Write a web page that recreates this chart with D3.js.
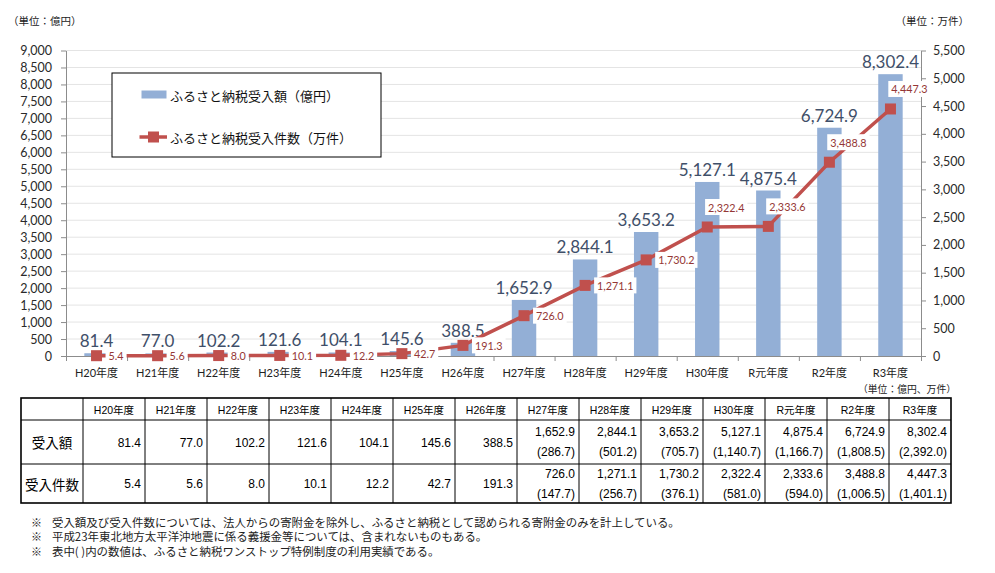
<!DOCTYPE html>
<html><head><meta charset="utf-8">
<script src="https://cdn.jsdelivr.net/npm/d3@7"></script>
<style>body{margin:0;background:#fff;} svg{display:block;}</style>
</head><body><svg id="c" width="995" height="573"></svg>
<script>
const categories = ["H20年度","H21年度","H22年度","H23年度","H24年度","H25年度","H26年度","H27年度","H28年度","H29年度","H30年度","R元年度","R2年度","R3年度"];
const amounts = [81.4,77.0,102.2,121.6,104.1,145.6,388.5,1652.9,2844.1,3653.2,5127.1,4875.4,6724.9,8302.4];
const counts = [5.4,5.6,8.0,10.1,12.2,42.7,191.3,726.0,1271.1,1730.2,2322.4,2333.6,3488.8,4447.3];
const oneStopAmounts = [null,null,null,null,null,null,null,286.7,501.2,705.7,1140.7,1166.7,1808.5,2392.0];
const oneStopCounts = [null,null,null,null,null,null,null,147.7,256.7,376.1,581.0,594.0,1006.5,1401.1];
const leftTicks = [0,500,1000,1500,2000,2500,3000,3500,4000,4500,5000,5500,6000,6500,7000,7500,8000,8500,9000];
const rightTicks = [0,500,1000,1500,2000,2500,3000,3500,4000,4500,5000,5500];
const seriesNames = ["ふるさと納税受入額（億円）","ふるさと納税受入件数（万件）"];
const rowLabels = ["受入額","受入件数"];
const leftUnit = "（単位：億円）";
const rightUnit = "（単位：万件）";
const tableUnit = "（単位：億円、万件）";
const notes = ["受入額及び受入件数については、法人からの寄附金を除外し、ふるさと納税として認められる寄附金のみを計上している。",
  "平成23年東北地方太平洋沖地震に係る義援金等については、含まれないものもある。",
  "表中( )内の数値は、ふるさと納税ワンストップ特例制度の利用実績である。"];

const svg = d3.select("#c");
const L = 66, R = 921, T = 50.5, B = 356;
const latin = "Lato, 'Noto Sans CJK JP', sans-serif";
const jp = "'Noto Sans CJK JP', sans-serif";
const fmt = d3.format(",.1f");

const x = d3.scaleBand().domain(categories).range([L, R]).paddingInner(0.6).paddingOuter(0.3);
const xb = d3.scaleLinear().domain([0, categories.length]).range([L, R]);
const yL = d3.scaleLinear().domain([0, 9000]).range([B, T]);
const yR = d3.scaleLinear().domain([0, 5500]).range([B, T]);
const cx = c => x(c) + x.bandwidth() / 2;

// gridlines
svg.append("g").selectAll("line").data(leftTicks.filter(d => d > 0)).join("line")
  .attr("x1", L).attr("x2", R).attr("y1", d => yL(d)).attr("y2", d => yL(d))
  .attr("stroke", "#E4E4E4").attr("stroke-width", 1);

// bars
svg.append("g").selectAll("rect").data(amounts).join("rect")
  .attr("x", (d, i) => x(categories[i])).attr("width", x.bandwidth())
  .attr("y", d => yL(d)).attr("height", d => B - yL(d))
  .attr("fill", "#93AFD6");

function styleAxis(g) {
  g.selectAll(".domain").attr("stroke", "#8C8C8C");
  g.selectAll(".tick line").attr("stroke", "#8C8C8C");
  g.selectAll(".tick text").attr("font-family", latin).attr("font-size", "12.5px").attr("fill", "#2A2A2A");
}
// left axis
svg.append("g").attr("transform", `translate(${L},0)`)
  .call(d3.axisLeft(yL).tickValues(leftTicks).tickFormat(d3.format(",")).tickSize(5).tickSizeOuter(0).tickPadding(9))
  .call(styleAxis);
// right axis
svg.append("g").attr("transform", `translate(${R},0)`)
  .call(d3.axisRight(yR).tickValues(rightTicks).tickFormat(d3.format(",")).tickSize(5).tickSizeOuter(0).tickPadding(7))
  .call(styleAxis);
// bottom axis
const gx = svg.append("g").attr("transform", `translate(0,${B})`)
  .call(d3.axisBottom(xb).tickValues(d3.range(0, categories.length + 1)).tickFormat("").tickSize(5).tickSizeOuter(0));
gx.selectAll(".domain").attr("stroke", "#8C8C8C");
gx.selectAll(".tick line").attr("stroke", "#8C8C8C");
svg.append("g").selectAll("text").data(categories).join("text")
  .attr("x", d => cx(d)).attr("y", 372).attr("text-anchor", "middle").attr("dominant-baseline", "central")
  .attr("font-family", latin).attr("font-size", "11px").attr("fill", "#222").text(d => d);

// bar labels
svg.append("g").selectAll("text").data(amounts).join("text")
  .attr("x", (d, i) => cx(categories[i])).attr("y", d => yL(d) - 6)
  .attr("text-anchor", "middle").attr("font-family", latin).attr("font-size", "17px")
  .attr("fill", "#3F4F69").text(d => fmt(d));

// line
const line = d3.line().x((d, i) => cx(categories[i])).y(d => yR(d));
svg.append("path").datum(counts).attr("d", line).attr("fill", "none")
  .attr("stroke", "#C0504D").attr("stroke-width", 3.5);
svg.append("g").selectAll("rect").data(counts).join("rect")
  .attr("x", (d, i) => cx(categories[i]) - 5.5).attr("y", d => yR(d) - 5.5)
  .attr("width", 11).attr("height", 11).attr("fill", "#C0504D");

// line labels
const lg = svg.append("g");
counts.forEach((d, i) => {
  const px = cx(categories[i]), py = yR(d);
  const g = lg.append("g");
  const above = i >= 10;
  const t = g.append("text").attr("font-family", latin).attr("font-size", "10.8px")
    .attr("fill", "#953735").attr("dominant-baseline", "central").text(fmt(d));
  if (above) t.attr("x", px + 19).attr("y", py - 20).attr("text-anchor", "middle");
  else t.attr("x", px + 12).attr("y", py).attr("text-anchor", "start");
  const bb = t.node().getBBox();
  g.insert("rect", "text").attr("x", bb.x - 3).attr("y", bb.y - 1.5)
    .attr("width", bb.width + 6).attr("height", bb.height + 3).attr("fill", "#fff");
});

// legend
const leg = svg.append("g");
leg.append("rect").attr("x", 112).attr("y", 73).attr("width", 269).attr("height", 84)
  .attr("fill", "#fff").attr("stroke", "#000").attr("stroke-width", 1);
leg.append("rect").attr("x", 141.5).attr("y", 90.5).attr("width", 25).attr("height", 8).attr("fill", "#93AFD6");
leg.append("line").attr("x1", 139.5).attr("x2", 167).attr("y1", 137).attr("y2", 137)
  .attr("stroke", "#C0504D").attr("stroke-width", 3.5);
leg.append("rect").attr("x", 148).attr("y", 131.5).attr("width", 11).attr("height", 11).attr("fill", "#C0504D");
leg.selectAll("text.l").data(seriesNames).join("text").attr("class", "l")
  .attr("x", 170).attr("y", (d, i) => i === 0 ? 95 : 137).attr("dominant-baseline", "central")
  .attr("font-family", jp).attr("font-size", "13px").attr("fill", "#111").text(d => d);

// units
svg.append("text").attr("x", 8).attr("y", 20).attr("dominant-baseline", "central")
  .attr("font-family", jp).attr("font-size", "10.5px").attr("fill", "#222").text(leftUnit);
svg.append("text").attr("x", 969).attr("y", 20).attr("text-anchor", "end").attr("dominant-baseline", "central")
  .attr("font-family", jp).attr("font-size", "10.5px").attr("fill", "#222").text(rightUnit);
svg.append("text").attr("x", 956).attr("y", 389).attr("text-anchor", "end").attr("dominant-baseline", "central")
  .attr("font-family", jp).attr("font-size", "9.8px").attr("fill", "#222").text(tableUnit);

// table
const tL = 21, c0 = 62, cw = 62, rows = [398, 420, 464, 503];
const tR = tL + c0 + cw * categories.length;
const colX = i => tL + c0 + cw * i;
const tb = svg.append("g");
const numFont = "'Liberation Sans', Arial, sans-serif";
tb.selectAll("line.v").data(d3.range(0, categories.length)).join("line").attr("class", "v")
  .attr("x1", colX).attr("x2", colX).attr("y1", rows[0]).attr("y2", rows[3]).attr("stroke", "#000").attr("stroke-width", 1);
tb.selectAll("line.h").data([rows[1], rows[2]]).join("line").attr("class", "h")
  .attr("x1", tL).attr("x2", tR).attr("y1", d => d).attr("y2", d => d).attr("stroke", "#000").attr("stroke-width", 1);
tb.append("rect").attr("x", tL).attr("y", rows[0]).attr("width", tR - tL).attr("height", rows[3] - rows[0])
  .attr("fill", "none").attr("stroke", "#000").attr("stroke-width", 1.6);
tb.selectAll("text.hd").data(categories).join("text").attr("class", "hd")
  .attr("x", (d, i) => colX(i) + cw / 2).attr("y", (rows[0] + rows[1]) / 2 + 0.5)
  .attr("text-anchor", "middle").attr("dominant-baseline", "central")
  .attr("font-family", "'Liberation Sans', 'Noto Sans CJK JP', sans-serif").attr("font-size", "10.5px").attr("fill", "#000").text(d => d);
rowLabels.forEach((r, k) => {
  tb.append("text").attr("x", tL + c0 / 2).attr("y", (rows[k + 1] + rows[k + 2]) / 2)
    .attr("text-anchor", "middle").attr("dominant-baseline", "central")
    .attr("font-family", jp).attr("font-size", "13.5px").attr("fill", "#000").text(r);
});
function rowValues(main, sub, k) {
  const top = rows[k + 1], bot = rows[k + 2], mid = (top + bot) / 2;
  main.forEach((v, i) => {
    const xr = colX(i + 1) - 4;
    const s = sub[i];
    const t = tb.append("text").attr("x", xr).attr("text-anchor", "end").attr("dominant-baseline", "central")
      .attr("font-family", numFont).attr("font-size", "12px").attr("fill", "#000").text(fmt(v));
    if (s == null) t.attr("y", mid + 0.5);
    else {
      t.attr("y", mid - 10);
      tb.append("text").attr("x", xr).attr("y", mid + 10).attr("text-anchor", "end").attr("dominant-baseline", "central")
        .attr("font-family", numFont).attr("font-size", "12px").attr("fill", "#000").text("(" + fmt(s) + ")");
    }
  });
}
rowValues(amounts, oneStopAmounts, 0);
rowValues(counts, oneStopCounts, 1);

// footnotes
notes.forEach((n, i) => {
  const y = 521.5 + i * 14.5;
  svg.append("text").attr("x", 31).attr("y", y).attr("dominant-baseline", "central")
    .attr("font-family", jp).attr("font-size", "11px").attr("fill", "#222").text("※");
  svg.append("text").attr("x", 52).attr("y", y).attr("dominant-baseline", "central")
    .attr("font-family", jp).attr("font-size", "11.45px").attr("fill", "#222").text(n);
});
</script></body></html>
